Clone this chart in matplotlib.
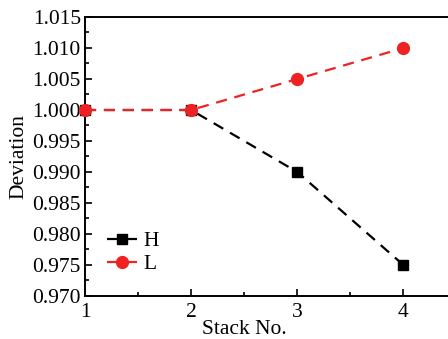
import matplotlib
matplotlib.use("Agg")
import matplotlib.pyplot as plt
from matplotlib.ticker import MultipleLocator

# data
stack = [1, 2, 3, 4]
dev_h = [1.000, 1.000, 0.990, 0.975]
dev_l = [1.000, 1.000, 1.005, 1.010]

plt.rcParams['font.family'] = ['Liberation Serif', 'DejaVu Serif']
plt.rcParams['font.size'] = 15.5

fig = plt.figure(figsize=(4.48, 3.39), dpi=100)
ax = fig.add_axes([85 / 448, 1 - 296 / 339, 1 - 85 / 448, (296 - 17) / 339])

ax.plot(stack, dev_h, ls=(0, (5, 3.5)), lw=1.6, color="black", marker="s",
        markersize=7.5, label="H", clip_on=False, zorder=3)
ax.plot(stack, dev_l, ls=(0, (5, 3.5)), lw=1.6, color="#ee2222", marker="o",
        markersize=8.5, label="L", clip_on=False, zorder=3)

ax.set_xlim(1, 4.42)
ax.set_ylim(0.970, 1.015)
ax.xaxis.set_major_locator(MultipleLocator(1))
ax.xaxis.set_minor_locator(MultipleLocator(0.5))
ax.yaxis.set_major_locator(MultipleLocator(0.005))
ax.yaxis.set_minor_locator(MultipleLocator(0.0025))
ax.yaxis.set_major_formatter(plt.FormatStrFormatter("%.3f"))
ax.tick_params(which="both", direction="in", width=1.2)
ax.tick_params(which="major", length=5)
ax.tick_params(which="minor", length=3)
ax.tick_params(axis="x", pad=5)
ax.tick_params(axis="y", pad=3)
ax.spines['right'].set_visible(False)
for s in ['left', 'bottom', 'top']:
    ax.spines[s].set_linewidth(1.4)

ax.set_xlabel("Stack No.", labelpad=0)
ax.xaxis.set_label_coords(1.5 / 3.42, -0.085)
ax.xaxis.label.set_va("top")
ax.set_ylabel("Deviation", labelpad=3)

ax.legend(loc="lower left", bbox_to_anchor=(0.0, 0.0), frameon=False,
          handlelength=1.4, handletextpad=0.3, labelspacing=0.15, borderaxespad=0.6)

fig.savefig("out.png", dpi=100)
